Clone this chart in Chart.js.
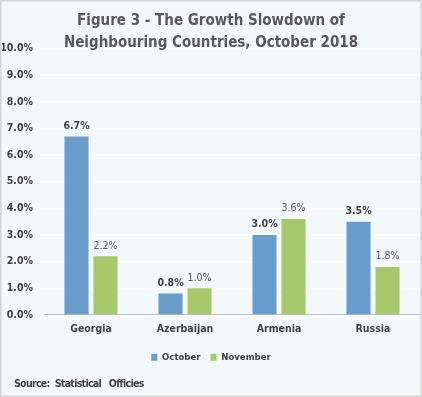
<!DOCTYPE html>
<html><head><meta charset="utf-8">
<script src="https://cdn.jsdelivr.net/npm/chart.js@4"></script>
<style>
html,body{margin:0;padding:0;background:#fff;}
#wrap{position:relative;width:422px;height:397px;}
canvas{display:block;}
</style></head>
<body><div id="wrap"><canvas id="c" width="422" height="397"></canvas></div>
<script>
const categories = ["Georgia", "Azerbaijan", "Armenia", "Russia"];
const october = [6.7, 0.8, 3.0, 3.5];
const november = [2.2, 1.0, 3.6, 1.8];
const seriesNames = ["October", "November"];
const titleLines = ["Figure 3 - The Growth Slowdown of", "Neighbouring Countries, October 2018"];
const sourceText = "Source:  Statistical   Officies";

const FONT = "'DejaVu Sans Condensed', 'DejaVu Sans', sans-serif";

const bgPlugin = {
  id: 'bg',
  beforeDraw(chart) {
    const ctx = chart.ctx;
    ctx.save();
    ctx.fillStyle = '#f3f8fb';
    ctx.fillRect(0, 0, chart.width, chart.height);
    ctx.strokeStyle = '#d4d4d4';
    ctx.lineWidth = 1.5;
    ctx.strokeRect(0.75, 0.75, chart.width - 1.5, chart.height - 1.5);
    ctx.restore();
  }
};

const labelPlugin = {
  id: 'valLabels',
  afterDatasetsDraw(chart) {
    const ctx = chart.ctx;
    ctx.save();
    ctx.textAlign = 'center';
    ctx.textBaseline = 'bottom';
    chart.data.datasets.forEach((ds, di) => {
      const meta = chart.getDatasetMeta(di);
      meta.data.forEach((bar, i) => {
        ctx.font = (di === 0 ? 'bold ' : '') + '10.5px ' + FONT;
        ctx.fillStyle = di === 0 ? '#404040' : '#595959';
        ctx.fillText(ds.data[i].toFixed(1) + '%', bar.x, bar.y - 5);
      });
    });
    ctx.restore();
  }
};

const sourcePlugin = {
  id: 'source',
  afterDraw(chart) {
    const ctx = chart.ctx;
    ctx.save();
    ctx.font = 'bold 10.5px ' + FONT;
    ctx.letterSpacing = '-0.7px';
    ctx.fillStyle = '#404040';
    ctx.textAlign = 'left';
    ctx.textBaseline = 'middle';
    ctx.fillText(sourceText, 14, 384);
    ctx.restore();
  }
};

new Chart(document.getElementById('c'), {
  type: 'bar',
  data: {
    labels: categories,
    datasets: [
      { label: seriesNames[0], data: october, backgroundColor: '#6a9dcc' },
      { label: seriesNames[1], data: november, backgroundColor: '#a7c96c' }
    ]
  },
  options: {
    responsive: false,
    animation: false,
    devicePixelRatio: 1,
    layout: { padding: { left: 2, right: 2, top: 0, bottom: 25 } },
    datasets: { bar: { categoryPercentage: 0.617, barPercentage: 0.83 } },
    plugins: {
      title: {
        display: true,
        text: titleLines,
        color: '#595959',
        font: { family: FONT, size: 15, weight: 'bold', lineHeight: 1.45 },
        padding: { top: 10, bottom: -5 }
      },
      legend: {
        position: 'bottom',
        labels: {
          boxWidth: 6, boxHeight: 7,
          color: '#404040',
          font: { family: FONT, size: 9.5, weight: 'bold' },
          padding: 10
        }
      },
      tooltip: { enabled: false }
    },
    scales: {
      x: {
        grid: { display: false },
        border: { color: '#bfbfbf', width: 1 },
        ticks: { color: '#404040', font: { family: FONT, size: 10.5, weight: 'bold' }, padding: 0 },
        afterFit(s) { s.height += 7; }
      },
      y: {
        min: 0, max: 10,
        grid: { color: '#ffffff', lineWidth: 1.5 },
        border: { display: false },
        ticks: {
          stepSize: 1,
          color: '#404040',
          font: { family: FONT, size: 10.5, weight: 'bold' },
          callback: v => v.toFixed(1) + '%'
        },
        afterFit(s) { s.width = 42; }
      }
    }
  },
  plugins: [bgPlugin, labelPlugin, sourcePlugin]
});
</script></body></html>
